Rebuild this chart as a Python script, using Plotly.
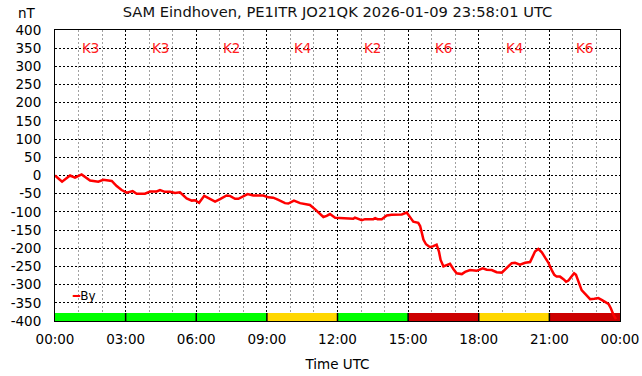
import plotly.graph_objects as go

# ---- data ----
hours = [0.00, 0.30, 0.64, 0.85, 1.13, 1.49, 1.84, 2.05, 2.41, 2.62, 2.83, 3.05, 3.30, 3.47, 3.82,
         4.04, 4.32, 4.46, 4.67, 4.89, 5.10, 5.31, 5.59, 5.81, 5.95, 6.12, 6.34, 6.58, 6.80, 7.01,
         7.29, 7.43, 7.65, 7.79, 8.00, 8.18, 8.42, 8.64, 8.85, 9.06, 9.27, 9.49, 9.77, 9.91, 10.15,
         10.41, 10.62, 10.83, 11.05, 11.26, 11.40, 11.54, 11.68, 11.90, 12.25, 12.67, 12.74, 13.03,
         13.17, 13.52, 13.60, 13.70, 13.88, 14.09, 14.30, 14.52, 14.73, 14.94, 15.08, 15.22, 15.43,
         15.51, 15.58, 15.65, 15.76, 15.93, 16.07, 16.21, 16.31, 16.38, 16.50, 16.64, 16.78, 16.92,
         17.06, 17.28, 17.42, 17.63, 17.91, 18.17, 18.34, 18.55, 18.76, 18.98, 19.19, 19.40, 19.54,
         19.75, 19.97, 20.18, 20.29, 20.39, 20.53, 20.68, 20.82, 20.96, 21.10, 21.21, 21.31, 21.45,
         21.60, 21.71, 21.81, 21.95, 22.05, 22.13, 22.23, 22.37, 22.56, 22.73, 22.91, 23.08, 23.22,
         23.36, 23.51, 23.61, 23.72, 23.83]
by_nT = [0, -17, 0, -6, 3, -14, -17, -12, -15, -29, -40, -47, -43, -50, -50,
         -44, -44, -40, -45, -45, -48, -46, -63, -69, -68, -75, -56, -65, -72, -65,
         -55, -56, -64, -64, -56, -51, -55, -55, -55, -60, -61, -67, -76, -77, -69,
         -76, -79, -81, -93, -105, -114, -111, -106, -116, -117, -119, -116, -123,
         -120, -120, -117, -120, -120, -110, -108, -107, -107, -102, -115, -127, -130,
         -139, -157, -176, -189, -197, -194, -190, -209, -232, -250, -246, -243, -257,
         -269, -271, -265, -260, -262, -255, -259, -260, -266, -267, -255, -241, -240,
         -245, -240, -238, -223, -209, -202, -211, -226, -240, -260, -273, -278, -278,
         -285, -292, -289, -276, -269, -273, -292, -315, -328, -340, -339, -337, -342,
         -348, -353, -365, -383, -395]

k_start_hours = [0, 3, 6, 9, 12, 15, 18, 21]
k_index = [3, 3, 2, 4, 2, 6, 4, 6]
tick_hours = [0, 3, 6, 9, 12, 15, 18, 21, 24]
tick_labels = ["00:00", "03:00", "06:00", "09:00", "12:00", "15:00", "18:00", "21:00", "00:00"]
y_ticks = list(range(-400, 401, 50))
y_tick_labels = [str(v) for v in y_ticks]

title_text = "SAM Eindhoven, PE1ITR JO21QK 2026-01-09 23:58:01 UTC"
unit_text = "nT"

FONT = "DejaVu Sans"
K_Y = 350
BAR_BASE = -400
BAR_H = 22
SLOT = 3


def k_color(k):
    if k <= 3:
        return "#00ff00"
    if k == 4:
        return "#ffd700"
    return "#cc0000"


fig = go.Figure()

fig.add_trace(go.Bar(
    x=[s + SLOT / 2 for s in k_start_hours],
    y=[BAR_H] * len(k_index),
    base=BAR_BASE,
    width=SLOT,
    marker=dict(color=[k_color(k) for k in k_index], line=dict(width=0)),
    showlegend=False,
    hoverinfo="skip",
))

fig.add_trace(go.Scatter(
    x=hours, y=by_nT, mode="lines", name="By",
    line=dict(color="#ff0000", width=2.5),
    showlegend=False,
))

shapes = []
for s in k_start_hours[1:]:
    shapes.append(dict(type="line", xref="x", yref="y", x0=s, x1=s,
                       y0=BAR_BASE, y1=BAR_BASE + BAR_H,
                       line=dict(color="black", width=1.5)))

annotations = []
for s, k in zip(k_start_hours, k_index):
    annotations.append(dict(x=s + SLOT / 2, y=K_Y, xref="x", yref="y", text=f"K{k}",
                            showarrow=False, font=dict(family=FONT, size=13.5, color="#ff2020")))

annotations.append(dict(x=0, y=1, xref="paper", yref="paper", text=unit_text,
                        showarrow=False, xanchor="center", yanchor="bottom",
                        xshift=-28, yshift=7,
                        font=dict(family=FONT, size=13.5, color="black")))

annotations.append(dict(x=0.62, y=-331, xref="x", yref="y", xanchor="left", yanchor="middle",
                        text="<span style='color:#ff0000'>━</span>By", showarrow=False,
                        font=dict(family=FONT, size=12, color="black")))

fig.update_layout(
    width=642, height=376,
    margin=dict(l=55, r=22, t=30, b=55, autoexpand=False),
    paper_bgcolor="white", plot_bgcolor="white",
    font=dict(family=FONT, size=13.5, color="black"),
    title=dict(text=title_text, x=0.5, xref="paper", y=1 - 12 / 376, yref="container",
               xanchor="center", yanchor="middle", automargin=False,
               font=dict(family=FONT, size=14.7, color="#111111")),
    shapes=shapes,
    annotations=annotations,
    bargap=0,
    showlegend=False,
    hovermode=False,
)

fig.update_xaxes(
    range=[0, 24], tickvals=tick_hours, ticktext=tick_labels, automargin=False,
    showgrid=True, gridcolor="black", griddash="2px,2px", gridwidth=1,
    minor=dict(dtick=1, showgrid=True, gridcolor="#a0a0a0", griddash="2px,2px", gridwidth=1),
    showline=True, mirror=True, linecolor="black", linewidth=1,
    ticks="", ticklabelstandoff=6, zeroline=False,
    title=dict(text="Time UTC", standoff=13, font=dict(family=FONT, size=13.5)),
    tickfont=dict(family=FONT, size=13.5),
)
fig.update_yaxes(
    range=[-400, 400], tickvals=y_ticks, ticktext=y_tick_labels, automargin=False,
    showgrid=True, gridcolor="black", griddash="2px,2px", gridwidth=1,
    showline=True, mirror=True, linecolor="black", linewidth=1,
    ticks="", ticklabelstandoff=10, zeroline=False,
    tickfont=dict(family=FONT, size=13.5),
)

fig.write_html("out.html", config={"displayModeBar": False},
               post_script="document.body.style.margin='0px';")
